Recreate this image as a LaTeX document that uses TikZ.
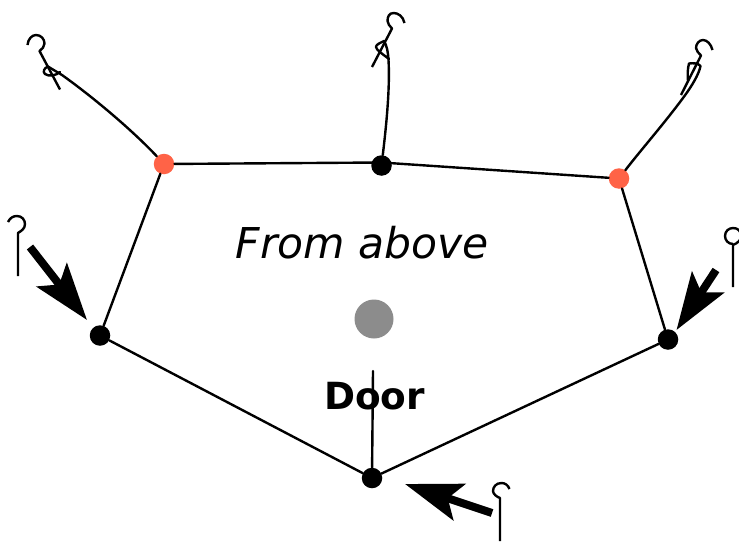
\documentclass[tikz,border=0pt]{standalone}
\usepackage{fontspec}
\setmainfont{DejaVu Sans}
\usetikzlibrary{arrows.meta}
\definecolor{tomatodot}{HTML}{FF6347}
\definecolor{hubgray}{HTML}{8C8C8C}
\tikzset{
  rope/.style={line width=2.4pt,line cap=round,line join=round},
  hook/.style={line width=2.4pt,line cap=butt,line join=round},
  dotblack/.style={circle,fill=black,inner sep=0pt,minimum size=20.5pt},
  dotred/.style={circle,fill=tomatodot,inner sep=0pt,minimum size=20.5pt},
  hub/.style={circle,fill=hubgray,inner sep=0pt,minimum size=39pt},
  bigarrow/.style={line width=8pt,-{Stealth[length=57pt,width=38pt,inset=12pt]}},
}
\begin{document}
\begin{tikzpicture}[x=1pt,y=-1pt]
\useasboundingbox (0,0) rectangle (739,541);
\node[hub] (gray) at (374,319) {};
\node[dotred] (tl) at (164,164) {};
\node[dotblack] (tm) at (381.5,165.5) {};
\node[dotred] (tr) at (619,178.5) {};
\node[dotblack] (bl) at (100,335.5) {};
\node[dotblack] (br) at (668,339.5) {};
\node[dotblack] (bm) at (372,478) {};
\node[anchor=base,font=\itshape,inner sep=0pt] (above) at (362.5,258) {\fontsize{42.5pt}{50pt}\selectfont From above};
\node[anchor=base,font=\bfseries,inner sep=0pt] (door) at (374.5,409) {\fontsize{37.4pt}{44pt}\selectfont Door};
\coordinate (doorend) at (373,371);
\coordinate (tmjoin) at (381.5,162.5);
% polygon
\draw[rope] (tl) -- (tmjoin);
\draw[rope] (tmjoin) -- (tr);
\draw[rope] (tr) -- (br);
\draw[rope] (br) -- (bm);
\draw[rope] (bm) -- (bl);
\draw[rope] (bl) -- (tl);
\draw[rope] (bm) -- (doorend);
% top-left hook and rope
\draw[hook] (27.5,45) .. controls (28,39) and (32,35) .. (36,35) .. controls (41,35) and (44.5,39) .. (44.5,43.5) .. controls (44.5,47) and (42,49) .. (39.5,51) -- (60,89.5);
\draw[rope] (tl) .. controls (135,133) and (97,100) .. (62,75) .. controls (57,72) and (52,69) .. (48,66.5) .. controls (44,68) and (42.5,72) .. (45,74) .. controls (49,77) and (56,75.5) .. (60,72);
% top-middle hook and rope
\draw[hook] (404.5,23) .. controls (403,16) and (398,13) .. (393.5,13) .. controls (389,13) and (387.5,17) .. (387.5,21) .. controls (387.5,24) and (390,26) .. (392,28.5) -- (372,67);
\draw[rope] (tm) .. controls (387,120) and (390,85) .. (388.5,60) .. controls (388,52) and (387,46) .. (384,41) .. controls (380,43) and (376,44.5) .. (376,47) .. controls (376,50) and (384,55) .. (389,59);
% top-right hook and rope
\draw[hook] (712.5,50) .. controls (711,44) and (707,40) .. (703,40) .. controls (699,40) and (696,44) .. (696,48) .. controls (696,51) and (699,53) .. (701,55.5) -- (681,95);
\draw[rope] (tr) .. controls (640,151) and (663,125) .. (683,98) .. controls (692,86) and (699,74) .. (700.5,66) .. controls (698,63) and (693,63) .. (689,63.5) .. controls (687.5,69) and (687.5,75) .. (688,81);
% left hook
\draw[hook] (8,222) .. controls (10,218) and (13,216) .. (17,216) .. controls (22,216) and (25,220) .. (25,224) .. controls (25,229) and (21,231) .. (18,233) -- (18,276);
% right hook
\draw[hook] (733,244) .. controls (728,244) and (725,240) .. (725,236) .. controls (725,231) and (729,228) .. (733,228) .. controls (738,228) and (741,231) .. (741,236) .. controls (741,240) and (738,243) .. (733,245) -- (733,287);
% bottom hook
\draw[hook] (509.5,489) .. controls (508,485) and (505,483) .. (501.5,483) .. controls (496,483) and (493,487) .. (493,491) .. controls (493,494) and (497,497) .. (500,498) -- (500,541);
% arrows
\coordinate (a1s) at (30,247);
\coordinate (a1e) at (87,320);
\coordinate (a2s) at (716,270);
\coordinate (a2e) at (676.5,330);
\coordinate (a3s) at (492,513);
\coordinate (a3e) at (405,484);
\draw[bigarrow] (a1s) -- (a1e);
\draw[bigarrow] (a2s) -- (a2e);
\draw[bigarrow] (a3s) -- (a3e);
\end{tikzpicture}
\end{document}
